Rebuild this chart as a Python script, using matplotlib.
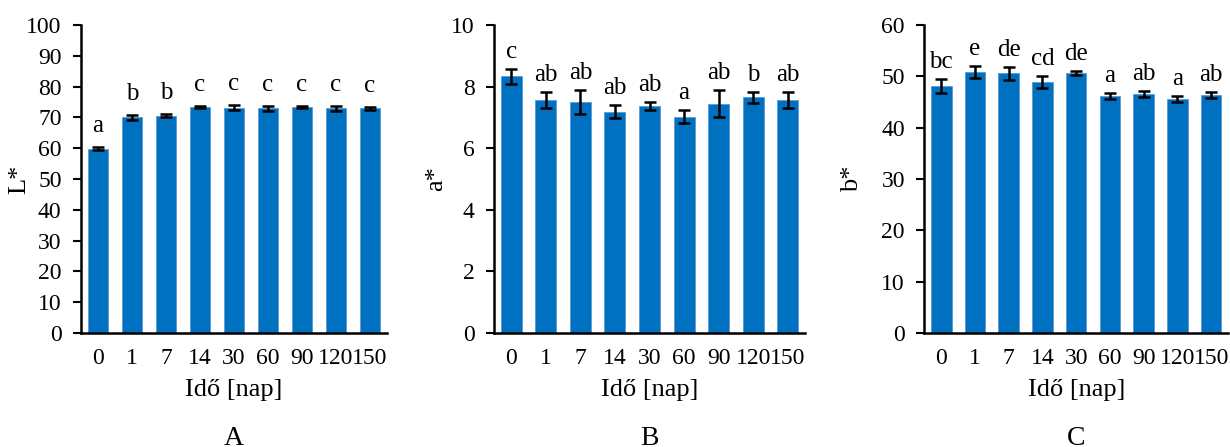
import matplotlib
matplotlib.use('Agg')
import matplotlib.pyplot as plt

plt.rcParams['font.family'] = ['Liberation Serif', 'DejaVu Serif']

days = ['0', '1', '7', '14', '30', '60', '90', '120', '150']

L_vals = [59.8, 70.0, 70.6, 73.3, 73.1, 73.0, 73.4, 72.9, 72.9]
L_err = [0.5, 0.7, 0.5, 0.3, 0.8, 0.8, 0.2, 0.9, 0.4]
L_lett = ['a', 'b', 'b', 'c', 'c', 'c', 'c', 'c', 'c']

a_vals = [8.33, 7.55, 7.50, 7.19, 7.37, 7.03, 7.45, 7.65, 7.55]
a_err = [0.24, 0.26, 0.38, 0.20, 0.14, 0.21, 0.44, 0.18, 0.26]
a_lett = ['c', 'ab', 'ab', 'ab', 'ab', 'a', 'ab', 'b', 'ab']

b_vals = [48.1, 50.8, 50.6, 48.9, 50.65, 46.1, 46.5, 45.6, 46.4]
b_err = [1.36, 1.17, 1.23, 1.1, 0.45, 0.6, 0.6, 0.65, 0.6]
b_lett = ['bc', 'e', 'de', 'cd', 'de', 'a', 'ab', 'a', 'ab']

panels = [
    # vals, err, letters, ylabel, ymax, step, panel letter, rect, label offset (px), ylabel x
    (L_vals, L_err, L_lett, 'L*', 100, 10, 'A', [0.0659, 0.255, 0.2487, 0.689], 15, -0.167),
    (a_vals, a_err, a_lett, 'a*', 10, 2, 'B', [0.4016, 0.255, 0.2529, 0.689], 11, -0.151),
    (b_vals, b_err, b_lett, 'b*', 60, 10, 'C', [0.7515, 0.255, 0.2469, 0.689], 11, -0.202),
]

bar_color = '#0070C0'

fig = plt.figure(figsize=(12.3, 4.47), dpi=100)

for vals, err, lett, ylab, ymax, step, tag, rect, off, ylx in panels:
    ax = fig.add_axes(rect)
    x = list(range(len(days)))
    ax.bar(x, vals, width=0.61, color=bar_color, edgecolor='#5B9BD5', linewidth=0.6,
           yerr=err, error_kw=dict(ecolor='black', elinewidth=1.8, capsize=4.5, capthick=1.8))
    for xi, v, e, t in zip(x, vals, err, lett):
        ax.annotate(t, (xi, v + e), xytext=(0, off * 0.72), textcoords='offset points',
                    ha='center', va='baseline', fontsize=18)
    ax.set_xlim(-0.5, len(days) - 0.5)
    ax.set_ylim(0, ymax)
    ax.set_yticks(range(0, ymax + 1, step))
    ax.set_xticks(x)
    ax.set_xticklabels(days)
    ax.tick_params(axis='y', direction='out', length=6, width=1.5, labelsize=17, pad=8)
    ax.tick_params(axis='x', length=0, labelsize=17, pad=11)
    for s in ['top', 'right']:
        ax.spines[s].set_visible(False)
    for s in ['left', 'bottom']:
        ax.spines[s].set_linewidth(1.8)
    ax.set_ylabel(ylab, fontsize=19)
    ax.yaxis.set_label_coords(ylx, 0.5)
    ax.set_xlabel('Idő [nap]', fontsize=19, labelpad=7)
    ax.text(0.5, -0.364, tag, transform=ax.transAxes, ha='center', va='baseline', fontsize=20)

fig.savefig('out.png', dpi=100)
